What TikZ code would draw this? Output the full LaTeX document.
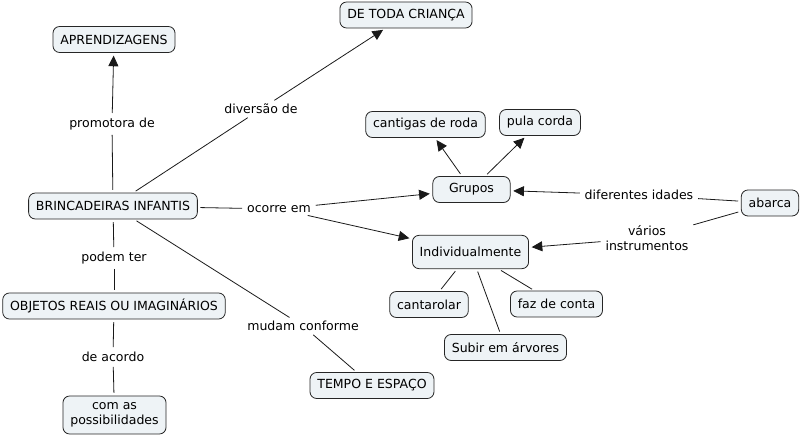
\documentclass[tikz,border=0pt]{standalone}
\usepackage{fontspec}
\setmainfont{DejaVu Sans}
\usetikzlibrary{arrows.meta}
\definecolor{boxfill}{HTML}{EEF3F6}
\tikzset{
  concept/.style={draw=black!85, fill=boxfill, rounded corners=5pt, line width=0.6pt,
    inner xsep=5.5pt, inner ysep=2pt, minimum height=19.5pt, align=center,
    font=\fontsize{9.4}{11.2}\selectfont},
  lbl/.style={inner sep=1.5pt, align=center, font=\fontsize{9.4}{11.2}\selectfont},
  link/.style={draw=black!90, line width=0.6pt, shorten <=2pt, shorten >=2pt},
  arr/.style={link, -{Triangle[length=8pt,width=7.5pt]}}
}
\begin{document}
\begin{tikzpicture}[x=0.75pt,y=-0.75pt]
\useasboundingbox (0,0) rectangle (801,438);
% concepts
\node[concept] (apr) at (114,39.5) {APRENDIZAGENS};
\node[concept] (dtc) at (406,15) {DE TODA CRIANÇA};
\node[concept] (cdr) at (425.5,124.5) {cantigas de roda};
\node[concept] (pc) at (540,122.5) {pula corda};
\node[concept, minimum width=58pt] (gr) at (471.5,189.5) {Grupos};
\node[concept] (bi) at (113,206) {BRINCADEIRAS INFANTIS};
\node[concept] (ab) at (770,203) {abarca};
\node[concept, minimum height=25pt] (ind) at (470.5,252) {Individualmente};
\node[concept] (obj) at (114,306) {OBJETOS REAIS OU IMAGINÁRIOS};
\node[concept] (cant) at (429,304.5) {cantarolar};
\node[concept] (faz) at (556.5,304) {faz de conta};
\node[concept] (sub) at (505.5,347.5) {Subir em árvores};
\node[concept] (tem) at (372,385.5) {TEMPO E ESPAÇO};
\node[concept, minimum height=28.5pt] (com) at (114.5,415) {com as\\possibilidades};
% labels
\node[lbl] (prom) at (112,124) {promotora de};
\node[lbl] (div) at (261,109) {diversão de};
\node[lbl] (oc) at (279,209) {ocorre em};
\node[lbl] (pod) at (114,258) {podem ter};
\node[lbl] (mud) at (303,326) {mudam conforme};
\node[lbl] (acd) at (113,357) {de acordo};
\node[lbl] (dif) at (639,195) {diferentes idades};
\node[lbl] (var) at (647,238) {vários\\instrumentos};
% connectors
\draw[link] (bi) -- (prom);
\draw[arr] (prom) -- (apr);
\draw[link] (bi) -- (div);
\draw[arr] (div) -- (dtc);
\draw[link] (bi) -- (oc);
\draw[arr] (oc) -- (gr);
\draw[arr] (oc) -- (ind);
\draw[link] (bi) -- (pod);
\draw[link] (pod) -- (obj);
\draw[link] (bi) -- (mud);
\draw[link] (mud) -- (tem);
\draw[link] (obj) -- (acd);
\draw[link] (acd) -- (com);
\draw[arr] (gr) -- (cdr);
\draw[arr] (gr) -- (pc);
\draw[link] (ab) -- (dif);
\draw[arr] (dif) -- (gr);
\draw[link] (ab) -- (var);
\draw[arr] (var) -- (ind);
\draw[link] (ind) -- (cant);
\draw[link] (ind) -- (faz);
\draw[link] (ind) -- (sub);
\end{tikzpicture}
\end{document}
